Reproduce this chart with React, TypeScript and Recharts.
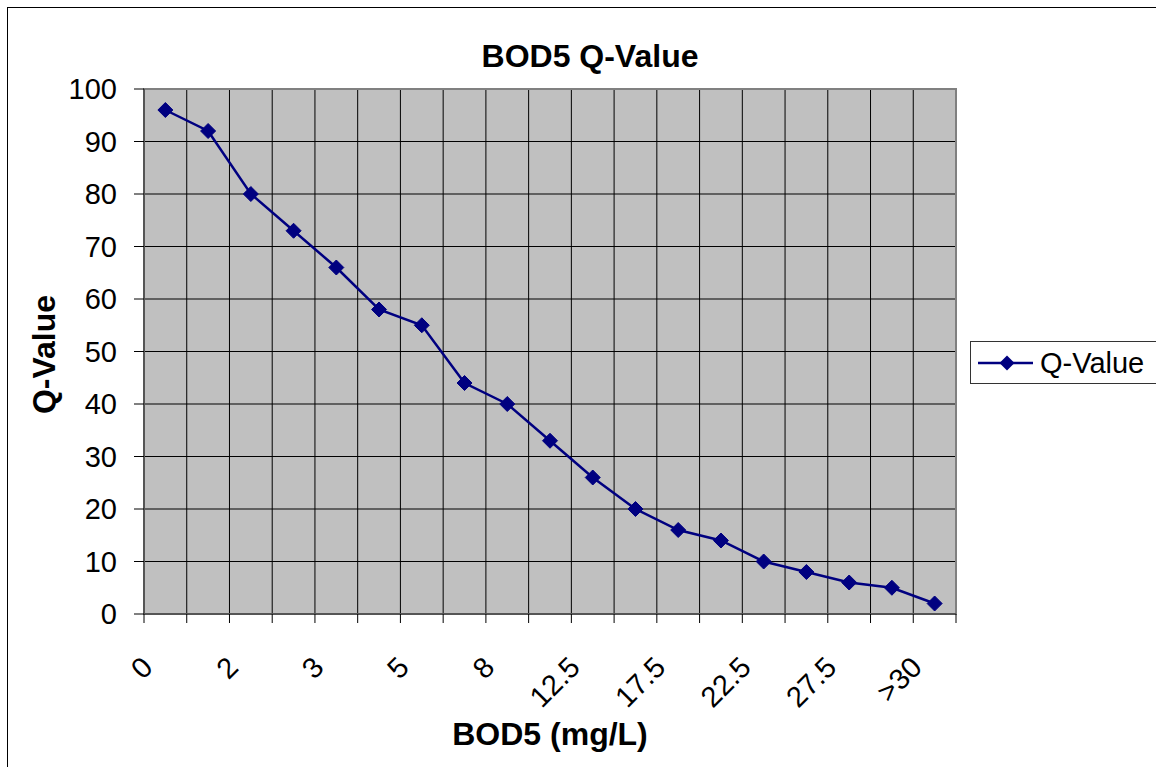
import React from 'react';
import { LineChart, Line, XAxis, YAxis, CartesianGrid, ReferenceArea, Label } from 'recharts';

const categories = ["0", "1", "2", "2.5", "3", "4", "5", "6.5", "8", "10", "12.5", "15", "17.5", "20", "22.5", "25", "27.5", "30", ">30"];
const qValues = [96, 92, 80, 73, 66, 58, 55, 44, 40, 33, 26, 20, 16, 14, 10, 8, 6, 5, 2];
const yTicks = [0, 10, 20, 30, 40, 50, 60, 70, 80, 90, 100];
const seriesName = "Q-Value";
const chartTitle = "BOD5 Q-Value";
const xTitle = "BOD5 (mg/L)";
const yTitle = "Q-Value";

const FONT = "'Liberation Sans', Arial, sans-serif";
const NAVY = "#000080";

const data = categories.map((c, i) => ({ pos: i + 0.5, cat: c, q: qValues[i] }));
const boundaryTicks = categories.map((_, i) => i).concat([categories.length]);
const labelTicks = categories.map((_, i) => i + 0.5).filter((_, i) => i % 2 === 0);

const Diamond = (props: any) => {
  const { cx, cy } = props;
  if (cx == null || cy == null) return null;
  const r = 7.5;
  return (
    <polygon
      points={`${cx},${cy - r} ${cx + r},${cy} ${cx},${cy + r} ${cx - r},${cy}`}
      fill={NAVY}
      stroke={NAVY}
      strokeWidth={1}
    />
  );
};

const EmptyTick = () => <g />;

const XTick = (props: any) => {
  const { x, y, payload } = props;
  const label = categories[Math.floor(payload.value)];
  const ax = x - 11;
  const ay = y + 54;
  return (
    <text
      x={ax}
      y={ay}
      transform={`rotate(-45, ${ax}, ${ay})`}
      textAnchor="end"
      fontSize={29}
      fill="#000"
      fontFamily={FONT}
    >
      {label}
    </text>
  );
};

const LegendBox = () => (
  <svg width={200} height={43} style={{ display: 'block' }}>
    <rect x={0.5} y={0.5} width={199} height={42} fill="#fff" stroke="#333" strokeWidth={1} />
    <line x1={8} y1={22} x2={63} y2={22} stroke={NAVY} strokeWidth={2.5} />
    <polygon points={`37,14.5 44.5,22 37,29.5 29.5,22`} fill={NAVY} />
    <text x={70} y={32} fontSize={29} fill="#000" fontFamily={FONT}>{seriesName}</text>
  </svg>
);

export default function App() {
  return (
    <div style={{ position: 'absolute', left: 0, top: 0, width: 1156, height: 767, overflow: 'hidden', background: '#fff', fontFamily: FONT }}>
      <div style={{ position: 'absolute', left: 7, top: 7, width: 1200, height: 800, border: '1px solid #000' }} />
      <div style={{ position: 'absolute', left: 0, top: 0 }}>
        <LineChart width={1156} height={767} data={data} margin={{ top: 89, right: 200, bottom: 0, left: 0 }}>
          <CartesianGrid xAxisId="g" stroke="#000" strokeWidth={1} fill="#C0C0C0" fillOpacity={1} horizontal vertical />
          <XAxis
            xAxisId="g"
            type="number"
            dataKey="pos"
            domain={[0, 19]}
            ticks={boundaryTicks}
            interval={0}
            tick={EmptyTick}
            tickSize={9}
            tickLine={{ stroke: '#000', strokeWidth: 1 }}
            axisLine={{ stroke: '#555', strokeWidth: 2 }}
            height={1}
            allowDataOverflow
          />
          <XAxis
            xAxisId="l"
            type="number"
            dataKey="pos"
            domain={[0, 19]}
            ticks={labelTicks}
            interval={0}
            tick={<XTick />}
            tickLine={false}
            axisLine={false}
            tickSize={0}
            tickMargin={0}
            height={152}
            allowDataOverflow
          >
            <Label
              content={(p: any) => {
                const vb = p.viewBox || { x: 144, y: 615, width: 812 };
                return (
                  <text x={vb.x + vb.width / 2} y={745} textAnchor="middle" fontSize={32} fontWeight="bold" fill="#000" fontFamily={FONT}>
                    {xTitle}
                  </text>
                );
              }}
            />
          </XAxis>
          <YAxis
            type="number"
            domain={[0, 100]}
            ticks={yTicks}
            interval={0}
            width={144}
            tickSize={10}
            tickMargin={17}
            tick={{ fontSize: 29, fill: '#000', fontFamily: FONT }}
            tickLine={{ stroke: '#000', strokeWidth: 1 }}
            axisLine={{ stroke: '#555', strokeWidth: 2 }}
            allowDataOverflow
          >
            <Label
              content={(p: any) => {
                const vb = p.viewBox || { x: 0, y: 89, width: 144, height: 525 };
                const cx = 55;
                const cy = vb.y + vb.height / 2 + 3;
                return (
                  <text x={cx} y={cy} transform={`rotate(-90, ${cx}, ${cy})`} textAnchor="middle" fontSize={32} fontWeight="bold" fill="#000" fontFamily={FONT}>
                    {yTitle}
                  </text>
                );
              }}
            />
          </YAxis>
          <ReferenceArea xAxisId="g" x1={0} x2={19} y1={0} y2={100} fill="none" fillOpacity={0} stroke="#808080" strokeWidth={2} ifOverflow="visible" />
          <Line
            xAxisId="g"
            type="linear"
            dataKey="q"
            name={seriesName}
            stroke={NAVY}
            strokeWidth={2.5}
            dot={<Diamond />}
            activeDot={false}
            isAnimationActive={false}
          />
          <text x={590} y={67} textAnchor="middle" fontSize={32} fontWeight="bold" fill="#000" fontFamily={FONT}>
            {chartTitle}
          </text>
        </LineChart>
      </div>
      <div style={{ position: 'absolute', left: 970, top: 341 }}>
        <LegendBox />
      </div>
    </div>
  );
}
